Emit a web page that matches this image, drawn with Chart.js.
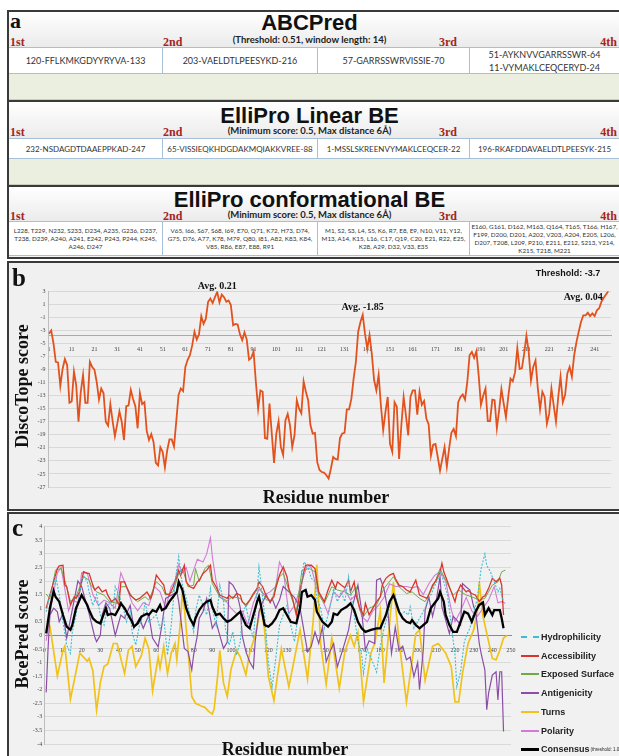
<!DOCTYPE html>
<html><head><meta charset="utf-8">
<script src="https://cdn.jsdelivr.net/npm/chart.js@4.4.1/dist/chart.umd.min.js"></script>
<style>
*{box-sizing:border-box}
html,body{margin:0;padding:0}
body{width:619px;height:756px;position:relative;overflow:hidden;background:#fff;font-family:"Liberation Sans",Arial,sans-serif;color:#111}
.frame{position:absolute;border:2px solid #3a3a3a}
.head{position:absolute;left:9px;width:610px;background:linear-gradient(#ffffff,#ebebeb)}
.title{position:absolute;left:0;width:619px;text-align:center;font-weight:bold;font-size:22px;line-height:22px;color:#111}
.sub{position:absolute;left:0;width:619px;text-align:center;font-family:Lato,"Open Sans",sans-serif;font-weight:bold;font-size:9.5px;line-height:10px;color:#222}
.ord{position:absolute;font-family:"Liberation Serif","Times New Roman",serif;font-weight:bold;font-size:12px;line-height:12px;color:#a52424}
.row{position:absolute;left:9px;width:610px;display:flex;background:#fff;border-top:1px solid #a7c0da;border-bottom:1px solid #a7c0da}
.cell{flex:none;display:flex;align-items:center;justify-content:center;text-align:center;font-family:Lato,"Open Sans",sans-serif;color:#333;border-right:1px solid #a7c0da;height:100%;white-space:nowrap;overflow:hidden}
.green{position:absolute;left:9px;width:610px;background:#ebefdf;border-bottom:1px solid #c9d0ba}
.sep{position:absolute;left:9px;width:610px;height:2px;background:#3a3a3a}
.letter{position:absolute;font-family:"Liberation Serif","Times New Roman",serif;font-weight:bold;color:#111;line-height:1}
.axt{position:absolute;font-family:"Liberation Serif","Times New Roman",serif;font-weight:bold;font-size:18px;line-height:18px;color:#111;white-space:nowrap;transform:translate(-50%,-50%)}
.axt.rot{transform:translate(-50%,-50%) rotate(-90deg)}
.leg{position:absolute;left:521px;height:12px;font-weight:bold;font-size:9px;color:#222;white-space:nowrap;display:flex;align-items:center}
.leg i{display:inline-block;width:18px;height:0;border-top:2.5px solid;margin-right:2px}
canvas{position:absolute}
</style></head><body>

<!-- panel a -->
<div class="frame" style="left:7px;top:10px;width:620px;height:249px;background:#f5f5f5"></div>
<div class="head" style="top:12px;height:35px"></div>
<div class="head" style="top:102px;height:36px"></div>
<div class="head" style="top:187px;height:34px"></div>
<div class="letter" style="left:10px;top:10px;font-size:22px">a</div>
<div class="title" style="top:12px">ABCPred</div>
<div class="sub" style="top:35px">(Threshold: 0.51, window length: 14)</div>
<div id="ord1"></div>
<div class="row" id="row1" style="top:47px;height:27px"></div>
<div class="green" style="top:74px;height:26px"></div>
<div class="sep" style="top:100px"></div>
<div class="title" style="top:105px">ElliPro Linear BE</div>
<div class="sub" style="top:126px">(Minimum score: 0.5, Max distance 6Å)</div>
<div class="row" id="row2" style="top:138px;height:21px"></div>
<div class="green" style="top:159px;height:26px"></div>
<div class="sep" style="top:185px"></div>
<div class="title" style="top:189px">ElliPro conformational BE</div>
<div class="sub" style="top:210px">(Minimum score: 0.5, Max distance 6Å)</div>
<div class="row" id="row3" style="top:221px;height:35px"></div>

<!-- panel b -->
<div class="frame" style="left:7px;top:261px;width:620px;height:250px;background:#f0f0f0"></div>
<canvas id="cb" width="611" height="248" style="left:8px;top:262px"></canvas>
<div class="letter" style="left:12px;top:265px;font-size:25px">b</div>
<div class="axt rot" style="left:22px;top:386px">DiscoTope score</div>
<div class="axt" style="left:326px;top:497px">Residue number</div>

<!-- panel c -->
<div class="frame" style="left:7px;top:512px;width:620px;height:250px;background:#f1f1f1"></div>
<canvas id="cc" width="611" height="244" style="left:8px;top:512px"></canvas>
<div class="letter" style="left:12px;top:515px;font-size:25px">c</div>
<div class="axt rot" style="left:22px;top:634px">BcePred score</div>
<div class="axt" style="left:285px;top:749px">Residue number</div>
<div id="legend"></div>

<script>
// ---------- panel a texts ----------
const ordinals = ['1st','2nd','3rd','4th'];
const abcpred = ['120-FFLKMKGDYYRYVA-133','203-VAELDTLPEESYKD-216','57-GARRSSWRVISSIE-70','51-AYKNVVGARRSSWR-64<br>11-VYMAKLCEQCERYD-24'];
const elliLinear = ['232-NSDAGDTDAAEPPKAD-247','65-VISSIEQKHDGDAKMQIAKKVREE-88','1-MSSLSKREENVYMAKLCEQCER-22','196-RKAFDDAVAELDTLPEESYK-215'];
const elliConf = [
 'L228, T229, N232, S233, D234, A235, G236, D237,<br>T238, D239, A240, A241, E242, P243, P244, K245,<br>A246, D247',
 'V65, I66, S67, S68, I69, E70, Q71, K72, H73, D74,<br>G75, D76, A77, K78, M79, Q80, I81, A82, K83, K84,<br>V85, R86, E87, E88, R91',
 'M1, S2, S3, L4, S5, K6, R7, E8, E9, N10, V11, Y12,<br>M13, A14, K15, L16, C17, Q19, C20, E21, R22, E25,<br>K28, A29, D32, V33, E35',
 'E160, G161, D162, M163, Q164, T165, T166, H167,<br>F199, D200, D201, A202, V203, A204, E205, L206,<br>D207, T208, L209, P210, E211, E212, S213, Y214,<br>K215, T218, M221'];

// ---------- panel b : DiscoTope score per residue (1..247) ----------
const discoScore = [
-3.5,-3.0,-5.0,-7.8,-7.9,-11.5,-8.9,-7.4,-8.3,-14.1,
-13.9,-9.3,-11.4,-17.0,-12.4,-9.8,-14.1,-14.1,-7.8,-8.6,
-9.0,-10.9,-13.6,-11.9,-12.6,-17.0,-17.6,-14.3,-16.9,-19.2,
-17.4,-15.4,-17.0,-19.8,-14.6,-14.5,-12.1,-13.5,-14.6,-18.0,
-12.6,-14.3,-14.0,-18.4,-19.8,-18.9,-20.1,-23.3,-23.7,-20.9,
-21.6,-24.0,-21.4,-19.7,-19.7,-20.8,-16.9,-12.9,-11.9,-12.3,
-8.6,-7.5,-6.8,-5.3,-3.2,-4.4,-3.6,-0.8,-2.0,-1.2,
1.4,1.9,1.2,2.1,2.9,1.3,2.5,2.1,1.4,1.6,
0.9,-2.2,-2.0,-2.1,-3.6,-4.5,-3.3,-4.4,-7.5,-7.2,
-6.2,-10.9,-15.0,-12.2,-12.4,-19.5,-19.6,-14.2,-18.8,-23.3,
-18.8,-16.9,-20.9,-22.1,-16.8,-15.8,-17.5,-20.9,-19.1,-13.7,
-15.0,-15.7,-10.8,-12.4,-13.7,-17.5,-18.8,-18.7,-23.2,-24.4,
-24.7,-24.8,-25.2,-25.7,-24.2,-22.4,-22.7,-22.8,-19.5,-18.8,
-18.7,-15.1,-15.1,-13.5,-10.4,-7.8,-3.2,-1.7,-0.6,-3.5,
-5.8,-3.7,-6.6,-10.6,-12.2,-9.8,-14.5,-18.3,-15.5,-13.2,
-20.4,-21.6,-14.0,-14.7,-22.7,-17.5,-13.2,-16.0,-19.1,-13.2,
-12.2,-12.2,-15.9,-12.4,-14.4,-13.8,-16.5,-17.4,-22.2,-20.5,
-20.4,-22.4,-24.5,-22.7,-20.9,-23.9,-21.1,-18.7,-18.1,-19.2,
-14.0,-13.2,-12.8,-13.6,-10.9,-6.8,-6.3,-7.2,-6.2,-9.9,
-14.4,-13.0,-11.9,-16.9,-16.9,-13.6,-13.7,-18.0,-15.2,-12.0,
-14.2,-16.3,-13.2,-10.4,-10.8,-9.4,-5.7,-8.9,-8.8,-6.6,
-3.8,-6.3,-10.7,-8.6,-7.6,-11.8,-15.1,-12.4,-13.2,-17.3,
-15.8,-11.9,-14.5,-17.0,-13.2,-10.1,-14.0,-12.9,-9.6,-8.6,
-10.1,-6.8,-4.8,-3.2,-1.7,-0.7,-0.7,-0.3,-0.8,-0.4,
-0.8,0.1,0.4,1.4,2.0,2.5,3.0];
const bResidues = discoScore.map((_, i) => i + 1);
const bTicks = [1,11,21,31,41,51,61,71,81,91,101,111,121,131,141,151,161,171,181,191,201,211,221,231,241];
const bThreshold = -3.7;
const bNotes = [
 {text:'Avg. 0.21', x:75, y:3.7, font:'bold 10px "Liberation Serif"'},
 {text:'Avg. -1.85', x:139, y:0.6, font:'bold 10px "Liberation Serif"'},
 {text:'Avg. 0.04', x:236, y:2.0, font:'bold 10px "Liberation Serif"'},
 {text:'Threshold: -3.7', x:229.3, y:5.8, font:'bold 9px "Liberation Sans"'}];

// ---------- panel c : BcePred scores, [residue, score] ----------
const hydrophilicity = [[1,0.87],[3,1.48],[5,1.8],[6,2.2],[8,1.5],[10,0.5],[12,-0.36],[14,-0.66],[15,0.13],[17,0.75],[19,1.6],[21,2.2],[23,1.97],[24,1.6],[26,1.1],[28,1.5],[30,0.75],[32,0.38],[33,0.75],[35,1.24],[37,1.0],[38,1.8],[40,1.48],[42,1.1],[44,0.5],[46,0.87],[47,0.13],[49,-0.36],[51,0.38],[53,0.75],[54,1.24],[56,0.5],[58,0.63],[60,0.75],[62,0.26],[64,0.63],[66,-0.72],[68,0.38],[70,1.97],[72,2.9],[74,1.85],[76,1.36],[78,0.75],[80,0.13],[81,0.87],[83,1.48],[85,1.1],[87,0.75],[89,1.73],[90,1.0],[92,0.38],[94,1.85],[96,1.24],[97,0.26],[99,-0.36],[101,0.13],[103,-0.72],[105,-0.23],[106,0.75],[108,1.1],[110,0.38],[112,-0.1],[113,0.75],[115,2.52],[116,1.97],[118,0.75],[120,-0.97],[122,-1.9],[124,-0.85],[126,0.38],[128,0.75],[130,1.1],[132,0.38],[134,-0.23],[136,0.75],[138,1.97],[139,2.7],[141,2.58],[143,2.1],[145,1.97],[146,1.36],[148,1.0],[150,0.26],[152,0.75],[154,1.36],[155,1.73],[157,1.24],[159,1.6],[161,1.24],[163,2.16],[164,1.6],[166,0.75],[168,-0.23],[170,-0.72],[171,-1.4],[173,-0.5],[176,-1.0],[178,-1.35],[180,-0.4],[182,0.26],[184,0.75],[186,1.36],[188,1.48],[189,1.1],[191,0.75],[193,0.87],[195,0.75],[196,1.05],[198,0.26],[200,0.5],[202,0.75],[204,1.0],[205,1.24],[207,1.48],[209,1.8],[211,2.1],[212,2.4],[214,1.97],[216,1.48],[218,0.38],[220,-0.72],[221,-1.89],[223,-1.34],[225,-0.23],[227,0.13],[228,0.26],[230,0.87],[232,1.36],[234,2.46],[236,3.0],[237,2.58],[239,2.34],[241,1.97],[243,1.6],[244,1.73],[246,1.24]];
const accessibility = [[1,1.0],[5,1.97],[7,2.46],[8,2.56],[10,2.58],[11,1.85],[12,1.79],[14,1.12],[16,1.42],[17,1.36],[19,1.6],[21,2.34],[23,2.28],[24,2.28],[26,1.85],[27,1.67],[29,1.79],[31,1.6],[33,1.67],[34,1.48],[36,1.24],[38,1.36],[40,1.12],[41,1.97],[43,1.97],[44,1.79],[46,1.48],[48,1.36],[49,1.3],[51,1.36],[53,1.48],[55,1.6],[57,1.36],[58,1.54],[60,2.22],[62,2.03],[64,1.85],[65,1.54],[67,1.48],[69,1.79],[71,2.16],[72,2.4],[73,2.2],[75,2.58],[76,1.97],[78,1.79],[80,1.73],[82,1.97],[83,2.03],[85,2.28],[87,2.4],[89,2.58],[90,2.03],[92,1.79],[94,1.48],[96,1.42],[98,1.36],[99,1.48],[101,1.36],[103,1.54],[105,1.48],[106,1.24],[108,1.12],[110,1.3],[112,1.54],[114,1.73],[115,1.97],[117,1.79],[119,1.42],[121,1.24],[123,1.42],[124,1.73],[126,2.22],[128,2.52],[130,2.16],[131,1.73],[133,1.36],[135,0.75],[137,1.6],[139,2.34],[140,2.58],[143,2.58],[145,2.46],[147,1.6],[148,1.48],[150,1.24],[152,1.67],[154,2.03],[156,1.73],[157,1.97],[159,1.85],[161,1.75],[163,2.03],[164,1.6],[166,1.97],[167,1.48],[169,1.0],[171,0.75],[172,1.18],[174,0.75],[176,1.0],[178,1.24],[180,1.42],[181,1.85],[183,2.1],[185,2.22],[187,2.28],[188,2.1],[190,1.85],[192,1.8],[194,1.67],[196,1.6],[197,1.75],[199,2.03],[201,1.48],[203,1.42],[205,1.36],[206,1.5],[208,1.85],[210,2.03],[212,2.34],[213,2.65],[214,2.34],[216,1.97],[218,1.6],[220,1.24],[221,1.54],[223,1.85],[226,1.6],[227,1.65],[229,1.54],[231,1.48],[233,1.24],[235,1.42],[236,1.45],[238,1.73],[240,2.1],[242,1.97],[244,2.1],[245,1.85],[246,0.75]];
const exposedSurface = [[1,1.52],[3,1.35],[6,2.4],[9,2.46],[12,1.79],[14,1.24],[17,1.42],[21,2.16],[24,2.03],[25,1.85],[28,1.6],[32,1.48],[35,1.24],[39,1.18],[41,1.79],[44,1.79],[47,1.42],[50,1.24],[54,1.42],[56,1.3],[60,1.97],[63,1.79],[65,1.48],[69,1.6],[72,2.28],[74,2.46],[77,1.79],[80,1.85],[81,2.46],[83,1.97],[86,2.46],[88,2.58],[90,1.91],[94,1.42],[97,1.24],[101,1.42],[105,1.36],[108,1.05],[112,1.48],[115,1.79],[119,1.3],[122,1.3],[125,2.1],[128,2.28],[131,1.67],[135,0.87],[138,2.4],[142,2.46],[145,2.34],[147,1.48],[150,1.18],[154,1.79],[157,1.67],[161,1.6],[164,1.48],[167,1.79],[169,0.93],[171,0.69],[174,1.0],[178,1.12],[182,1.73],[187,2.16],[190,1.79],[194,1.54],[197,1.6],[201,1.36],[204,1.24],[209,1.91],[212,2.46],[215,2.03],[219,1.48],[222,1.67],[226,1.48],[229,1.42],[233,1.3],[236,1.36],[240,1.85],[243,1.97],[245,2.34],[247,2.4]];
const antigenicity = [[1,-2.1],[2,-0.5],[3,0.75],[5,1.0],[7,0.87],[8,0.5],[10,0.8],[12,-0.1],[14,0.6],[16,1.3],[18,2.0],[20,1.8],[22,1.3],[24,0.8],[27,-0.05],[28,-0.23],[30,0.0],[31,0.75],[33,1.2],[35,1.0],[38,0.0],[41,0.75],[43,0.63],[46,1.1],[48,0.26],[51,0.63],[53,0.26],[56,0.75],[58,-0.1],[61,-0.42],[63,0.38],[65,1.36],[68,1.48],[71,1.6],[72,1.24],[75,-0.48],[77,-0.6],[79,-1.27],[80,-0.72],[82,0.0],[83,0.63],[85,0.87],[87,1.36],[88,1.0],[90,0.26],[92,0.5],[94,0.0],[96,-0.48],[98,-0.25],[99,1.97],[101,1.85],[103,1.6],[105,1.0],[106,0.0],[108,-0.6],[110,-0.97],[112,-1.21],[113,-0.2],[115,0.87],[117,1.24],[119,1.48],[121,1.2],[122,1.36],[124,1.0],[126,1.3],[128,1.8],[131,1.6],[134,1.4],[137,1.0],[140,-0.2],[141,-0.6],[143,-0.4],[145,0.13],[147,-0.3],[149,0.3],[151,-0.97],[153,-0.6],[155,-0.3],[157,-1.15],[160,-0.5],[163,0.2],[165,1.05],[168,1.85],[170,0.9],[172,-0.54],[174,-0.2],[177,-0.3],[178,2.03],[180,2.1],[182,1.7],[184,0.93],[186,-0.66],[188,0.3],[190,-0.54],[192,-0.4],[194,-0.9],[196,-0.8],[198,-1.52],[200,-1.0],[201,-2.0],[203,-0.54],[204,0.93],[206,1.4],[208,0.7],[210,1.3],[212,2.16],[213,1.05],[215,0.56],[217,0.07],[219,0.7],[221,0.56],[223,0.38],[224,1.91],[226,1.78],[228,1.67],[230,1.05],[231,0.93],[233,-0.3],[234,-0.66],[236,-1.27],[237,-2.74],[238,-2.13],[240,-1.46],[242,-1.34],[243,-2.38],[244,-1.34],[245,-1.34],[246,-3.54]];
const turns = [[1,0.3],[3,0.35],[7,-1.5],[10,-0.55],[11,-0.4],[14,-2.35],[19,-0.65],[21,-0.8],[23,-0.95],[24,-0.85],[26,-1.3],[28,-2.75],[30,-1.75],[32,-1.15],[34,-1.05],[37,-0.3],[39,-0.3],[43,-1.4],[45,-0.55],[47,-0.4],[49,-1.15],[52,-0.75],[54,-0.1],[56,-0.5],[58,-2.05],[61,-0.8],[62,-1.2],[64,-0.4],[66,-1.4],[68,-0.65],[70,-0.3],[71,-0.9],[73,0.55],[74,1.65],[75,1.05],[77,-0.55],[79,-2.25],[81,-2.5],[84,-2.6],[86,-2.65],[88,-2.8],[90,-2.9],[91,-2.7],[93,-1.4],[94,-0.55],[96,-1.75],[98,-2.25],[100,-1.25],[103,-0.55],[105,-0.8],[108,-1.45],[110,-0.65],[113,0.0],[116,1.05],[118,0.2],[120,-1.5],[123,-2.4],[127,-0.5],[131,-1.9],[137,0.2],[141,-1.6],[144,0.5],[146,2.6],[148,-0.3],[151,-1.8],[154,-0.1],[158,-1.95],[161,-0.6],[164,0.0],[166,-0.4],[168,0.1],[171,-2.45],[175,-0.65],[177,-0.3],[180,0.9],[182,-1.75],[187,1.95],[190,-0.2],[194,-2.45],[199,0.05],[201,0.2],[204,-1.65],[208,-0.4],[211,-0.3],[215,-0.65],[218,-1.15],[220,-2.45],[222,-2.45],[224,-1.4],[227,-0.3],[230,0.2],[232,0.9],[233,1.95],[235,0.7],[240,-0.85],[242,-0.9],[244,-0.55],[246,-0.1],[248,0.0]];
const polarity = [[1,-0.2],[4,1.2],[7,2.3],[9,2.5],[11,1.7],[13,0.9],[15,1.3],[18,1.2],[20,2.3],[23,2.3],[26,1.5],[29,1.1],[32,1.3],[35,1.2],[38,1.0],[41,2.3],[44,1.8],[47,1.2],[50,0.9],[53,1.2],[56,1.1],[59,1.8],[62,1.6],[65,1.0],[68,1.8],[70,2.0],[72,2.6],[74,2.3],[76,2.5],[78,2.0],[80,2.4],[82,2.8],[85,2.7],[87,3.0],[89,3.6],[90,2.9],[92,2.0],[94,1.4],[97,1.3],[100,1.0],[103,0.8],[106,0.9],[109,0.4],[112,1.2],[115,1.7],[118,1.5],[121,1.6],[124,1.8],[126,2.7],[128,2.4],[131,0.8],[134,1.1],[136,1.5],[139,2.2],[141,2.6],[143,2.5],[146,1.7],[149,1.3],[152,0.8],[155,1.6],[158,1.4],[161,1.7],[164,1.3],[167,1.5],[170,0.7],[173,0.5],[176,0.9],[179,1.1],[182,1.4],[185,1.9],[188,1.8],[191,1.8],[194,1.8],[197,1.75],[200,1.8],[203,1.5],[206,1.9],[209,2.2],[212,2.35],[215,2.0],[218,0.95],[220,0.5],[223,0.9],[226,1.4],[229,0.9],[232,0.7],[235,1.0],[238,1.3],[241,1.8],[243,1.2],[245,1.24],[247,1.18]];
const consensus = [[1,0.07],[3,1.0],[5,1.63],[6,1.42],[8,1.24],[10,0.75],[12,0.32],[14,0.2],[15,0.38],[17,1.0],[20,1.48],[21,1.36],[23,1.12],[24,0.93],[26,0.63],[28,0.5],[30,0.44],[31,0.63],[33,1.0],[34,0.75],[36,0.8],[38,0.75],[40,1.0],[41,1.18],[43,1.0],[45,0.75],[47,0.5],[48,0.32],[50,0.44],[52,0.69],[55,0.8],[56,0.75],[58,0.93],[60,0.87],[62,1.12],[63,0.93],[65,1.0],[67,1.24],[69,1.42],[71,1.6],[72,1.97],[74,1.67],[76,1.0],[78,0.63],[80,0.38],[81,0.63],[83,0.93],[85,1.12],[87,1.24],[89,1.3],[90,1.05],[92,0.75],[94,0.8],[96,0.63],[98,0.5],[100,0.56],[102,0.69],[105,0.87],[106,0.69],[108,0.38],[110,0.26],[112,0.75],[114,1.24],[115,1.42],[116,1.12],[118,0.38],[120,0.32],[122,0.44],[124,0.63],[126,0.93],[128,1.0],[130,0.75],[132,0.5],[135,0.44],[137,1.0],[138,1.6],[140,1.67],[141,1.42],[143,1.48],[145,1.3],[146,0.87],[149,0.5],[152,0.32],[154,0.5],[155,0.8],[157,0.75],[159,0.93],[162,1.05],[164,1.18],[166,0.93],[168,0.5],[170,0.26],[172,0.13],[175,0.2],[178,0.26],[180,0.26],[183,0.75],[185,1.24],[187,1.48],[188,1.3],[190,0.87],[192,0.63],[194,0.5],[196,0.45],[197,0.56],[199,0.38],[201,0.26],[203,0.38],[205,0.5],[207,1.0],[209,1.18],[211,1.36],[212,1.6],[214,1.24],[215,0.75],[217,0.38],[219,0.13],[221,0.13],[223,0.5],[225,0.87],[227,0.8],[229,0.5],[231,0.87],[233,1.12],[235,1.21],[236,0.75],[238,1.0],[240,0.75],[241,0.93],[244,0.93],[245,0.63],[246,0.26]];
const cSeries = [
 {label:'Hydrophilicity', data:hydrophilicity, color:'#3dbcd3', width:1.1, dash:[2,1.5]},
 {label:'Accessibility', data:accessibility, color:'#d8362c', width:1.3},
 {label:'Exposed Surface', data:exposedSurface, color:'#6fab45', width:1},
 {label:'Antigenicity', data:antigenicity, color:'#8b4ea6', width:1.2},
 {label:'Turns', data:turns, color:'#f0c21a', width:1.7},
 {label:'Polarity', data:polarity, color:'#d47ad6', width:1.1},
 {label:'Consensus', data:consensus, color:'#000000', width:2.3}];

// ---------- build panel a ----------
const cellEdges = [9,163,318,470,619];
function buildRow(id, texts, size, lh){
  const row = document.getElementById(id);
  texts.forEach((t,i)=>{
    const c = document.createElement('div'); c.className='cell';
    c.style.width = (cellEdges[i+1]-cellEdges[i])+'px';
    c.style.fontSize = size+'px'; c.style.lineHeight = lh+'px';
    if(i===3) c.style.borderRight='none';
    c.innerHTML = t; row.appendChild(c);
  });
}
buildRow('row1', abcpred, 9, 13);
buildRow('row2', elliLinear, 8, 12);
buildRow('row3', elliConf, 6.3, 8);
const ordHost = document.getElementById('ord1');
[[36],[126],[210]].forEach(([top])=>{
  const pos = [[10,'left'],[163,'left'],[457,'right'],[617,'right']];
  ordinals.forEach((o,i)=>{
    const d = document.createElement('div'); d.className='ord'; d.textContent=o;
    d.style.top = top+'px';
    if(pos[i][1]==='left') d.style.left = pos[i][0]+'px'; else d.style.right = (619-pos[i][0])+'px';
    ordHost.appendChild(d);
  });
});

// ---------- legend panel c ----------
const legHost = document.getElementById('legend');
cSeries.forEach((s,i)=>{
  const d = document.createElement('div'); d.className='leg';
  d.style.top = (631 + i*18.7)+'px';
  const dashStyle = s.dash ? 'dashed' : 'solid';
  d.innerHTML = '<i style="border-top:'+(s.label==='Consensus'?3:2.5)+'px '+dashStyle+' '+s.color+'"></i>'+s.label+
    (s.label==='Consensus' ? '<span style="font-size:4.5px;font-weight:normal;margin-left:1px">(threshold: 1.0)</span>' : '');
  legHost.appendChild(d);
});

// ---------- charts ----------
const notePlugin = {id:'notes', afterDraw(chart){
  const {ctx, scales:{x, y}} = chart; ctx.save();
  ctx.fillStyle = '#111'; ctx.textAlign='center'; ctx.textBaseline='middle';
  bNotes.forEach(n=>{ ctx.font = n.font; ctx.fillText(n.text, x.getPixelForValue(n.x), y.getPixelForValue(n.y)); });
  ctx.restore();
}};
const plainNum = v => String(Math.round(v*100)/100);

new Chart(document.getElementById('cb'), {
  type:'line',
  data:{datasets:[{data: discoScore.map((v,i)=>({x:bResidues[i], y:v})), borderColor:'#e2521e', borderWidth:1.8, pointRadius:0, tension:0, fill:false}]},
  options:{
    responsive:false, animation:false, events:[],
    layout:{padding:{left:22.5, right:8, top:29.3, bottom:23}},
    plugins:{legend:{display:false}, tooltip:{enabled:false}},
    scales:{
      x:{type:'linear', min:0.8, max:248.2, position:{y:bThreshold},
         afterBuildTicks:s=>{ s.ticks = bTicks.map(v=>({value:v})); },
         ticks:{autoSkip:false, maxRotation:0, font:{size:6, family:'Liberation Serif'}, color:'#444', padding:3, callback:plainNum},
         grid:{display:false}, border:{color:'#aaaaaa', width:1}},
      y:{type:'linear', min:-27, max:3, afterFit:s=>{ s.width = 18; },
         ticks:{stepSize:2, font:{size:6, family:'Liberation Serif'}, color:'#444', padding:3, callback:plainNum},
         grid:{color:'#d8d8d8', drawTicks:false}, border:{color:'#bdbdbd'}}
    }
  },
  plugins:[notePlugin]
});

const cDatasets = cSeries.map((s)=>({
  label:s.label, data:s.data.map(p=>({x:p[0], y:p[1]})), borderColor:s.color, borderWidth:s.width,
  borderDash:s.dash||[], pointRadius:0, tension:0, fill:false,
  order: s.label==='Consensus' ? 0 : (s.label==='Turns' ? 6 : 3)
}));
new Chart(document.getElementById('cc'), {
  type:'line',
  data:{datasets:cDatasets},
  options:{
    responsive:false, animation:false, events:[],
    layout:{padding:{left:20.3, right:108, top:14.7, bottom:12}},
    plugins:{legend:{display:false}, tooltip:{enabled:false}},
    scales:{
      x:{type:'linear', min:0, max:250, position:{y:0},
         ticks:{stepSize:10, autoSkip:false, maxRotation:0, font:{size:6, family:'Liberation Serif'}, color:'#444', padding:3, callback:plainNum},
         grid:{display:false}, border:{color:'#8a8a8a', width:1}},
      y:{type:'linear', min:-4, max:4, afterFit:s=>{ s.width = 16; },
         ticks:{stepSize:0.5, font:{size:6, family:'Liberation Serif'}, color:'#444', padding:2, callback:plainNum},
         grid:{color:'#d9d9d9', drawTicks:false}, border:{color:'#bdbdbd'}}
    }
  }
});
</script>
</body></html>
